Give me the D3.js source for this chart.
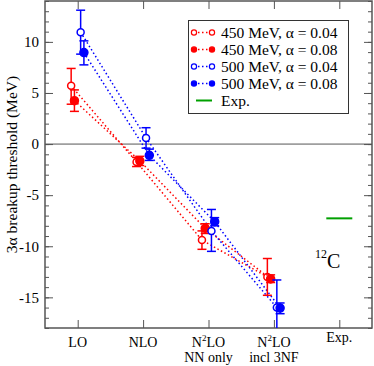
<!DOCTYPE html>
<html>
<head>
<meta charset="utf-8">
<script src="https://cdn.jsdelivr.net/npm/d3@7"></script>
<style>
  body { margin: 0; background: #fff; }
  svg text { font-family: "Liberation Serif", "DejaVu Serif", serif; }
</style>
</head>
<body>
<svg id="chart" width="374" height="366"></svg>
<script>
// categories on the x axis (1..5)
const categories = ["LO", "NLO", "N2LO NN only", "N2LO incl 3NF", "Exp."];
const yTicks = [-15, -10, -5, 0, 5, 10];

// series: central value, lower end of error bar, upper end of error bar
const val450a = [5.7, -1.75, -9.4, -13.0];
const lo450a  = [3.9, -2.2, -10.3, -14.8];
const hi450a  = [7.4, -1.3, -8.5, -11.2];

const val450b = [4.25, -1.65, -8.25, -13.2];
const lo450b  = [3.2, -2.1, -8.75, -13.55];
const hi450b  = [5.3, -1.2, -7.8, -12.8];

const val500a = [10.95, 0.6, -8.5, -16.0];
const lo500a  = [8.8, -0.4, -10.5, -19];
const hi500a  = [13.1, 1.6, -6.4, -13.3];

const val500b = [8.95, -1.1, -7.6, -16.05];
const lo500b  = [7.75, -1.6, -8.0, -16.6];
const hi500b  = [10.1, -0.5, -7.2, -15.55];

const expValue = -7.27;

const series = [
  {name: "450 MeV, \u03b1 = 0.04", color: "#ff0000", open: true,  dx: -0.1,  v: val450a, lo: lo450a, hi: hi450a},
  {name: "450 MeV, \u03b1 = 0.08", color: "#ff0000", open: false, dx: -0.05, v: val450b, lo: lo450b, hi: hi450b},
  {name: "500 MeV, \u03b1 = 0.04", color: "#0000ff", open: true,  dx: 0.045, v: val500a, lo: lo500a, hi: hi500a},
  {name: "500 MeV, \u03b1 = 0.08", color: "#0000ff", open: false, dx: 0.095, v: val500b, lo: lo500b, hi: hi500b}
];

const svg = d3.select("#chart");
const L = 45, R = 372, T = 1, B = 328;

const x = d3.scaleLinear().domain([0.5, 5.5]).range([L, R]);
const y = d3.scaleLinear().domain([-18, 14]).range([B, T]);

svg.append("defs").append("clipPath").attr("id", "clip")
  .append("rect").attr("x", L).attr("y", T).attr("width", R - L).attr("height", B - T);

const frame = "#555";

// zero line
svg.append("line")
  .attr("x1", L).attr("x2", R).attr("y1", y(0)).attr("y2", y(0))
  .attr("stroke", frame).attr("stroke-width", 1);

// axes with inward ticks
const minor = d3.range(-18, 15);
const axL = svg.append("g").attr("transform", `translate(${L},0)`)
  .call(d3.axisRight(y).tickValues(minor).tickSize(4).tickFormat(""));
const axLM = svg.append("g").attr("transform", `translate(${L},0)`)
  .call(d3.axisRight(y).tickValues(yTicks).tickSize(8).tickFormat(""));
const axR = svg.append("g").attr("transform", `translate(${R},0)`)
  .call(d3.axisLeft(y).tickValues(minor).tickSize(4).tickFormat(""));
const axRM = svg.append("g").attr("transform", `translate(${R},0)`)
  .call(d3.axisLeft(y).tickValues(yTicks).tickSize(8).tickFormat(""));
const axB = svg.append("g").attr("transform", `translate(0,${B})`)
  .call(d3.axisTop(x).tickValues([1, 2, 3, 4, 5]).tickSize(8).tickFormat(""));
const axT = svg.append("g").attr("transform", `translate(0,${T})`)
  .call(d3.axisBottom(x).tickValues([1, 2, 3, 4, 5]).tickSize(8).tickFormat(""));
[axL, axLM, axR, axRM, axB, axT].forEach(g => {
  g.select(".domain").remove();
  g.selectAll("line").attr("stroke", frame);
});

svg.append("rect")
  .attr("x", L).attr("y", T).attr("width", R - L).attr("height", B - T)
  .attr("fill", "none").attr("stroke", frame).attr("stroke-width", 1.5);

// y tick labels
svg.append("g").selectAll("text").data(yTicks).join("text")
  .attr("x", L - 6).attr("y", d => y(d)).attr("dy", "0.35em")
  .attr("text-anchor", "end").attr("font-size", 15).attr("fill", "#000")
  .text(d => d);

// x tick labels
const xl = svg.append("g").attr("font-size", 14).attr("fill", "#000");
categories.forEach((c, i) => {
  const t = xl.append("text").attr("x", x(i + 1)).attr("y", c === "Exp." ? 342 : 347)
    .attr("text-anchor", "middle");
  if (c.startsWith("N2LO")) {
    t.append("tspan").text("N");
    t.append("tspan").attr("dy", -6).attr("font-size", 9).text("2");
    t.append("tspan").attr("dy", 6).text("LO");
    xl.append("text").attr("x", x(i + 1)).attr("y", 362).attr("text-anchor", "middle")
      .text(c.replace("N2LO ", ""));
  } else {
    t.text(c);
  }
});

// y axis title
svg.append("text")
  .attr("transform", `translate(17,${(T + B) / 2}) rotate(-90)`)
  .attr("text-anchor", "middle").attr("font-size", 15.5).attr("fill", "#000")
  .text("3\u03b1 breakup threshold (MeV)");

const plot = svg.append("g").attr("clip-path", "url(#clip)");

// dotted connecting lines
series.forEach(s => {
  const line = d3.line().x((d, i) => x(i + 1 + s.dx)).y(d => y(d));
  plot.append("path").datum(s.v).attr("d", line)
    .attr("fill", "none").attr("stroke", s.color).attr("stroke-width", 1.5)
    .attr("stroke-dasharray", "1.5,2.5");
});

// error bars and markers
series.forEach(s => {
  const g = plot.append("g");
  s.v.forEach((v, i) => {
    const cx = x(i + 1 + s.dx);
    g.append("line").attr("x1", cx).attr("x2", cx).attr("y1", y(s.lo[i])).attr("y2", y(s.hi[i]))
      .attr("stroke", s.color).attr("stroke-width", 1.5);
    [s.lo[i], s.hi[i]].forEach(e => {
      g.append("line").attr("x1", cx - 4.5).attr("x2", cx + 4.5).attr("y1", y(e)).attr("y2", y(e))
        .attr("stroke", s.color).attr("stroke-width", 1.5);
    });
    g.append("circle").attr("cx", cx).attr("cy", y(v)).attr("r", s.open ? 3.5 : 4)
      .attr("fill", s.open ? "#fff" : s.color)
      .attr("stroke", s.color).attr("stroke-width", 1.5);
  });
});

// experiment
plot.append("line")
  .attr("x1", x(5) - 13).attr("x2", x(5) + 13).attr("y1", y(expValue)).attr("y2", y(expValue))
  .attr("stroke", "#00a000").attr("stroke-width", 2);

// 12C label
const lab = svg.append("text").attr("x", 315).attr("y", 268).attr("font-size", 20).attr("fill", "#000");
lab.append("tspan").attr("font-size", 12).attr("dy", -10).text("12");
lab.append("tspan").attr("dy", 10).text("C");

// legend
const lg = svg.append("g");
lg.append("rect").attr("x", 188.5).attr("y", 20.5).attr("width", 160).attr("height", 93)
  .attr("fill", "#fff").attr("stroke", "#333").attr("stroke-width", 1);
series.forEach((s, i) => {
  const yy = 32.5 + i * 17;
  lg.append("line").attr("x1", 194).attr("x2", 212).attr("y1", yy).attr("y2", yy)
    .attr("stroke", s.color).attr("stroke-width", 1.5).attr("stroke-dasharray", "1.5,2.5");
  [194, 212].forEach(cx => {
    lg.append("circle").attr("cx", cx).attr("cy", yy).attr("r", 2.6)
      .attr("fill", s.open ? "#fff" : s.color).attr("stroke", s.color).attr("stroke-width", 1.2);
  });
  lg.append("text").attr("x", 221).attr("y", yy).attr("dy", "0.35em")
    .attr("font-size", 15.5).attr("fill", "#000").text(s.name);
});
lg.append("line").attr("x1", 196).attr("x2", 212).attr("y1", 100.5).attr("y2", 100.5)
  .attr("stroke", "#00a000").attr("stroke-width", 2);
lg.append("text").attr("x", 221).attr("y", 100.5).attr("dy", "0.35em")
  .attr("font-size", 15.5).attr("fill", "#000").text("Exp.");
</script>
</body>
</html>
